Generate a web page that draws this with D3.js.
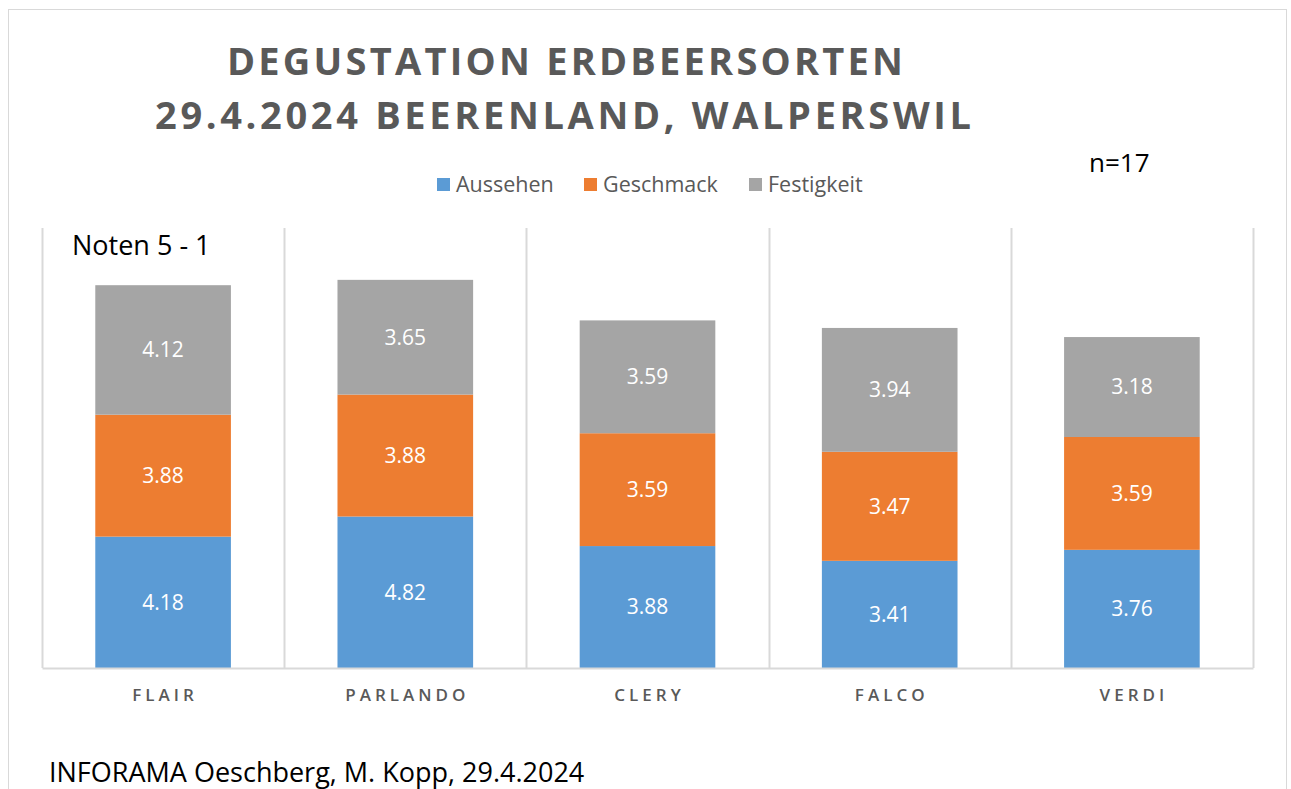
<!DOCTYPE html>
<html>
<head>
<meta charset="utf-8">
<script src="https://cdn.jsdelivr.net/npm/d3@7"></script>
<style>
  body { margin: 0; background: #fff; }
  svg { display: block; font-family: "Open Sans", "DejaVu Sans", sans-serif; }
</style>
</head>
<body>
<div id="chart"></div>
<script>
const sorten = ["FLAIR", "PARLANDO", "CLERY", "FALCO", "VERDI"];
const serien = ["Aussehen", "Geschmack", "Festigkeit"];
const aussehen = [4.18, 4.82, 3.88, 3.41, 3.76];
const geschmack = [3.88, 3.88, 3.59, 3.47, 3.59];
const festigkeit = [4.12, 3.65, 3.59, 3.94, 3.18];
const farben = ["#5B9BD5", "#ED7D31", "#A5A5A5"];

const width = 1291, height = 789;
const margin = {top: 228, right: 38, bottom: 121, left: 42};

const data = sorten.map((s, i) => ({sorte: s, Aussehen: aussehen[i], Geschmack: geschmack[i], Festigkeit: festigkeit[i]}));
const stacked = d3.stack().keys(serien)(data);

const svg = d3.select("#chart").append("svg")
  .attr("width", width)
  .attr("height", height);

// frame
svg.append("rect")
  .attr("x", 8.5).attr("y", 9.5)
  .attr("width", 1278).attr("height", 800)
  .attr("fill", "none").attr("stroke", "#D9D9D9");

const x = d3.scaleBand()
  .domain(sorten)
  .range([margin.left, width - margin.right])
  .paddingInner(0.44)
  .paddingOuter(0.22);

const y = d3.scaleLinear()
  .domain([0, 14])
  .range([height - margin.bottom, margin.top]);

const z = d3.scaleOrdinal().domain(serien).range(farben);

// vertical separators between categories
const step = x.step();
const seps = d3.range(sorten.length + 1).map(i => margin.left + i * step);
svg.append("g")
  .selectAll("line")
  .data(seps)
  .enter().append("line")
  .attr("x1", d => Math.round(d) + 0.5)
  .attr("x2", d => Math.round(d) + 0.5)
  .attr("y1", y(14))
  .attr("y2", y(0))
  .attr("stroke", "#D9D9D9")
  .attr("stroke-width", 2);

// bars
svg.append("g")
  .selectAll("g")
  .data(stacked)
  .enter().append("g")
  .attr("fill", d => z(d.key))
  .selectAll("rect")
  .data(d => d)
  .enter().append("rect")
  .attr("x", d => x(d.data.sorte))
  .attr("y", d => y(d[1]))
  .attr("height", d => y(d[0]) - y(d[1]))
  .attr("width", x.bandwidth());

// value labels
svg.append("g")
  .selectAll("g")
  .data(stacked)
  .enter().append("g")
  .selectAll("text")
  .data(d => d.map(v => ({v: v, key: d.key})))
  .enter().append("text")
  .attr("x", d => x(d.v.data.sorte) + x.bandwidth() / 2)
  .attr("y", d => (y(d.v[0]) + y(d.v[1])) / 2)
  .attr("dy", "0.35em")
  .attr("text-anchor", "middle")
  .attr("fill", "#fff")
  .attr("font-size", 21)
  .text(d => d.v.data[d.key].toFixed(2));

// x axis
const xAxis = g => g
  .attr("transform", `translate(0,${y(0)})`)
  .call(d3.axisBottom(x).tickSize(0).tickPadding(21))
  .call(g => g.select(".domain").attr("stroke", "#D9D9D9").attr("stroke-width", 2))
  .call(g => g.selectAll(".tick text")
    .attr("font-size", 17)
    .attr("font-weight", 600)
    .attr("font-family", "\"Open Sans\", sans-serif")
    .attr("fill", "#595959")
    .attr("letter-spacing", "4px")
    .attr("dx", "2px"));
svg.append("g").call(xAxis);

// title
const title = svg.append("g")
  .attr("font-weight", "bold")
  .attr("fill", "#595959")
  .attr("font-size", 38)
  .attr("text-anchor", "middle");
title.append("text")
  .attr("x", 565).attr("y", 75)
  .attr("textLength", 676).attr("lengthAdjust", "spacing")
  .text("DEGUSTATION ERDBEERSORTEN");
title.append("text")
  .attr("x", 563).attr("y", 129)
  .attr("textLength", 816).attr("lengthAdjust", "spacing")
  .text("29.4.2024 BEERENLAND, WALPERSWIL");

// legend
const legendX = [437, 584, 749];
const legend = svg.append("g");
serien.forEach((s, i) => {
  legend.append("rect")
    .attr("x", legendX[i]).attr("y", 178)
    .attr("width", 13).attr("height", 13)
    .attr("fill", farben[i]);
  legend.append("text")
    .attr("x", legendX[i] + 19).attr("y", 192)
    .attr("font-size", 21.5)
    .attr("fill", "#595959")
    .text(s);
});

// annotations
svg.append("text")
  .attr("x", 1089).attr("y", 172)
  .attr("font-size", 26).attr("fill", "#000")
  .text("n=17");
svg.append("text")
  .attr("x", 72).attr("y", 255)
  .attr("font-size", 27).attr("fill", "#000")
  .text("Noten 5 - 1");
svg.append("text")
  .attr("x", 49).attr("y", 782)
  .attr("font-size", 27).attr("fill", "#000")
  .text("INFORAMA Oeschberg, M. Kopp, 29.4.2024");
</script>
</body>
</html>
